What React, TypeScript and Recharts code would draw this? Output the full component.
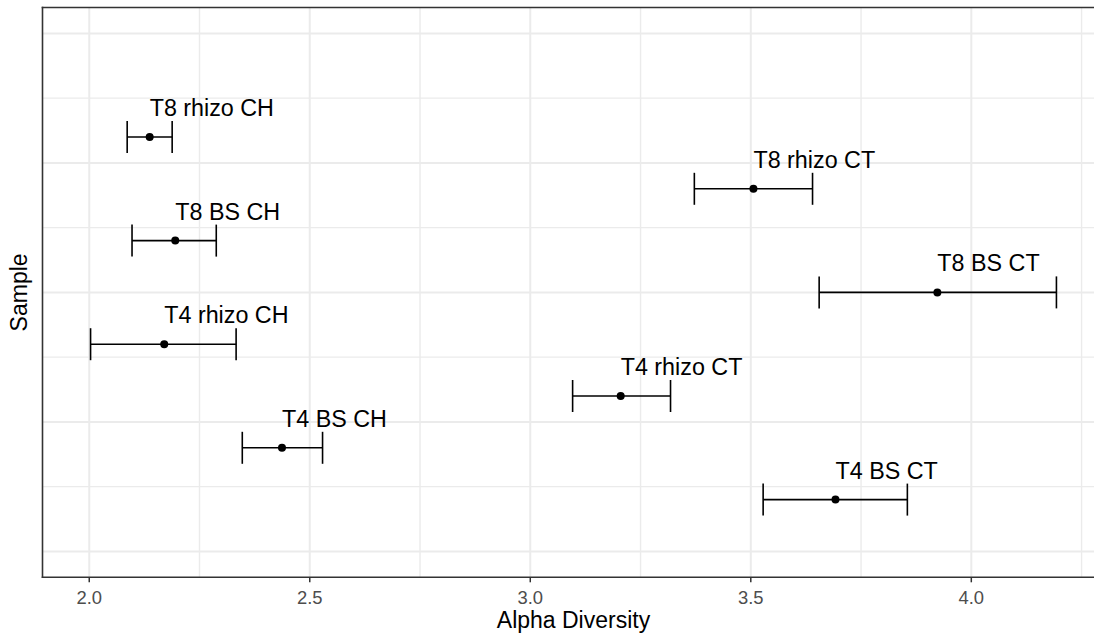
import React from 'react';
import {
  ScatterChart,
  Scatter,
  XAxis,
  YAxis,
  CartesianGrid,
  ErrorBar,
  ReferenceLine,
} from 'recharts';

const samples = [
  'T4 BS CT',
  'T4 BS CH',
  'T4 rhizo CT',
  'T4 rhizo CH',
  'T8 BS CT',
  'T8 BS CH',
  'T8 rhizo CT',
  'T8 rhizo CH',
];
const positions = [1, 2, 3, 4, 5, 6, 7, 8];
const means = [3.692, 2.437, 3.205, 2.17, 3.923, 2.195, 3.506, 2.137];
const lower = [3.528, 2.347, 3.096, 2.003, 3.655, 2.097, 3.372, 2.086];
const upper = [3.855, 2.529, 3.318, 2.333, 4.193, 2.288, 3.64, 2.188];

const xTicks = [2, 2.5, 3, 3.5, 4];
const xMinor = [2.25, 2.75, 3.25, 3.75, 4.25];
const yMajor = [0, 2.5, 5, 7.5, 10];
const yMinor = [1.25, 3.75, 6.25, 8.75];
const yAll = [0, 1.25, 2.5, 3.75, 5, 6.25, 7.5, 8.75, 10];
const xDomain: [number, number] = [1.894, 4.302];
const yDomain: [number, number] = [-0.5, 10.5];

const data = samples.map((name, i) => ({
  name,
  pos: positions[i],
  mean: means[i],
  err: [means[i] - lower[i], upper[i] - means[i]],
}));

const FONT = '"Liberation Sans", Arial, sans-serif';
const BORDER = '#333';

const PointShape = (props: any) => {
  const { cx, cy } = props;
  const name = props.payload?.name ?? props.name;
  return (
    <g>
      <circle cx={cx} cy={cy} r={4} fill="#000" />
      <text
        x={cx}
        y={cy - 21}
        textAnchor="start"
        fontSize={23.3}
        fontFamily={FONT}
        fill="#000"
      >
        {name}
      </text>
    </g>
  );
};

const XTitle = (props: any) => {
  const vb = props.viewBox || {};
  return (
    <text
      x={vb.x + vb.width / 2}
      y={vb.y + 50.7}
      textAnchor="middle"
      fontSize={23}
      fontFamily={FONT}
      fill="#000"
    >
      Alpha Diversity
    </text>
  );
};

const YTitle = (props: any) => {
  const vb = props.viewBox || {};
  const x = vb.x + 26.7;
  const y = vb.y + vb.height / 2;
  return (
    <text
      x={x}
      y={y}
      transform={`rotate(-90 ${x} ${y})`}
      textAnchor="middle"
      fontSize={23}
      fontFamily={FONT}
      fill="#000"
    >
      Sample
    </text>
  );
};

const EmptyTick = () => <g />;

export default function App() {
  return (
    <div
      style={{
        position: 'fixed',
        left: 0,
        top: 0,
        width: 1094,
        height: 640,
        overflow: 'hidden',
        background: '#fff',
      }}
    >
      <ScatterChart
        width={1106}
        height={640}
        margin={{ top: 7.5, right: 1.5, left: 0, bottom: 0 }}
      >
        <CartesianGrid
          vertical={false}
          horizontalValues={yMinor}
          stroke="#EBEBEB"
          strokeWidth={1.4}
        />
        <CartesianGrid
          horizontal={false}
          verticalValues={xMinor}
          stroke="#EBEBEB"
          strokeWidth={1.4}
        />
        <CartesianGrid
          vertical={false}
          horizontalValues={yMajor}
          stroke="#EBEBEB"
          strokeWidth={2}
        />
        <CartesianGrid
          horizontal={false}
          verticalValues={xTicks}
          stroke="#EBEBEB"
          strokeWidth={2}
        />
        <ReferenceLine
          y={yDomain[0]}
          stroke={BORDER}
          strokeWidth={1.6}
          strokeLinecap="square"
          ifOverflow="visible"
        />
        <ReferenceLine
          y={yDomain[1]}
          stroke={BORDER}
          strokeWidth={1.6}
          strokeLinecap="square"
          ifOverflow="visible"
        />
        <ReferenceLine
          x={xDomain[0]}
          stroke={BORDER}
          strokeWidth={1.6}
          strokeLinecap="square"
          ifOverflow="visible"
        />
        <ReferenceLine
          x={xDomain[1]}
          stroke={BORDER}
          strokeWidth={1.6}
          strokeLinecap="square"
          ifOverflow="visible"
        />
        <XAxis
          type="number"
          dataKey="mean"
          domain={xDomain}
          allowDataOverflow
          ticks={xTicks}
          tickFormatter={(v: number) => v.toFixed(1)}
          height={62.7}
          axisLine={false}
          tickSize={5}
          tickMargin={9}
          tickLine={{ stroke: BORDER, strokeWidth: 1.5 }}
          tick={{ fill: '#4D4D4D', fontSize: 18.4, fontFamily: FONT }}
          label={<XTitle />}
        />
        <YAxis
          type="number"
          dataKey="pos"
          domain={yDomain}
          allowDataOverflow
          ticks={yAll}
          interval={0}
          width={42.5}
          tick={EmptyTick}
          tickLine={false}
          axisLine={false}
          label={<YTitle />}
        />
        <Scatter
          data={data}
          dataKey="pos"
          fill="#000"
          shape={<PointShape />}
          isAnimationActive={false}
        >
          <ErrorBar
            dataKey="err"
            direction="x"
            width={16}
            stroke="#000"
            strokeWidth={1.6}
            isAnimationActive={false}
          />
        </Scatter>
      </ScatterChart>
    </div>
  );
}
